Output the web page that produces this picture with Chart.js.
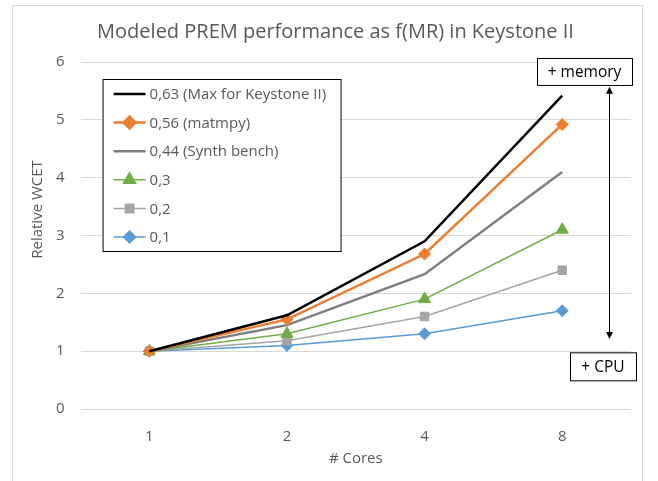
<!DOCTYPE html>
<html>
<head>
<meta charset="utf-8">
<script src="https://cdn.jsdelivr.net/npm/chart.js@4/dist/chart.umd.min.js"></script>
<style>
  html, body { margin: 0; padding: 0; background: #fff; }
  #wrap { position: relative; width: 658px; height: 481px; }
</style>
</head>
<body>
<div id="wrap"><canvas id="chart" width="658" height="481"></canvas></div>
<script>
// ---- data ----
const cores = ['1', '2', '4', '8'];
const mr063 = [1, 1.62, 2.9, 5.42];
const mr056 = [1, 1.55, 2.68, 4.92];
const mr044 = [1, 1.45, 2.33, 4.1];
const mr030 = [1, 1.3, 1.9, 3.1];
const mr020 = [1, 1.18, 1.6, 2.4];
const mr010 = [1, 1.1, 1.3, 1.7];
const seriesNames = ['0,63 (Max for Keystone II)', '0,56 (matmpy)', '0,44 (Synth bench)', '0,3', '0,2', '0,1'];
const yTicks = [0, 1, 2, 3, 4, 5, 6];

const TXT = '#595959';
Chart.defaults.font.family = "'Open Sans', sans-serif";
Chart.defaults.color = TXT;

function series(label, data, color, width, style, radius) {
  return {
    label, data,
    borderColor: color,
    backgroundColor: color,
    borderWidth: width,
    pointStyle: style,
    pointRadius: style ? radius : 0,
    pointBorderWidth: 1,
    tension: 0
  };
}

// legend box drawn inside plot, Excel style
const boxLegend = {
  id: 'boxLegend',
  afterDatasetsDraw(chart) {
    const { ctx, chartArea: a } = chart;
    const x0 = a.left + 22, y0 = a.top + 17, w = 238, h = 172;
    ctx.save();
    ctx.fillStyle = '#fff';
    ctx.fillRect(x0, y0, w, h);
    ctx.strokeStyle = '#000';
    ctx.lineWidth = 1;
    ctx.strokeRect(x0 + 0.5, y0 + 0.5, w, h);
    ctx.font = "15px 'Open Sans', sans-serif";
    ctx.textBaseline = 'middle';
    chart.data.datasets.forEach((ds, i) => {
      const y = y0 + 15 + i * 28.6;
      ctx.strokeStyle = ds.borderColor;
      ctx.lineWidth = ds.borderWidth;
      ctx.beginPath();
      ctx.moveTo(x0 + 11, y);
      ctx.lineTo(x0 + 43, y);
      ctx.stroke();
      if (ds.pointStyle) {
        ctx.fillStyle = ds.backgroundColor;
        ctx.strokeStyle = ds.borderColor;
        Chart.helpers.drawPoint(ctx, { pointStyle: ds.pointStyle, radius: ds.pointRadius, rotation: 0, borderWidth: 1 }, x0 + 27, y);
      }
      ctx.fillStyle = TXT;
      ctx.fillText(ds.label, x0 + 47, y + 1);
    });
    ctx.restore();
  }
};

// frame, axis titles, "+ memory" / "+ CPU" boxes and the double arrow
const sideNotes = {
  id: 'sideNotes',
  afterDraw(chart) {
    const { ctx, chartArea: a, scales: { y } } = chart;
    ctx.save();
    ctx.strokeStyle = '#d9d9d9';
    ctx.lineWidth = 1;
    ctx.strokeRect(12.5, 5.5, 630, 480);

    ctx.font = "15px 'Open Sans', sans-serif";
    ctx.fillStyle = TXT;
    ctx.textAlign = 'center';
    ctx.textBaseline = 'middle';
    // x axis title
    ctx.fillText('# Cores', (a.left + a.right) / 2, a.bottom + 50);
    // y axis title (Excel puts it a bit above the plot centre)
    ctx.save();
    ctx.translate(a.left - 43, y.getPixelForValue(3.45));
    ctx.rotate(-Math.PI / 2);
    ctx.fillText('Relative WCET', 0, 0);
    ctx.restore();

    ctx.font = "15.5px 'Open Sans', sans-serif";
    const note = (txt, l, t, w, h) => {
      ctx.fillStyle = '#fff';
      ctx.fillRect(l, t, w, h);
      ctx.strokeStyle = '#000';
      ctx.lineWidth = 1;
      ctx.strokeRect(l + 0.5, t + 0.5, w, h);
      ctx.fillStyle = '#000';
      ctx.fillText(txt, l + w / 2, t + h / 2 + 1);
    };
    note('+ memory', a.right - 94, y.getPixelForValue(6.07), 95, 27);
    note('+ CPU', a.right - 61, y.getPixelForValue(0.98), 66, 28);

    const ax = a.right - 22;
    const yt = y.getPixelForValue(5.57), yb = y.getPixelForValue(1.21);
    ctx.strokeStyle = '#000';
    ctx.fillStyle = '#000';
    ctx.lineWidth = 1;
    ctx.beginPath();
    ctx.moveTo(ax + 0.5, yt + 4);
    ctx.lineTo(ax + 0.5, yb - 4);
    ctx.stroke();
    [[yt, 1], [yb, -1]].forEach(([py, d]) => {
      ctx.beginPath();
      ctx.moveTo(ax + 0.5, py);
      ctx.lineTo(ax - 3, py + 7 * d);
      ctx.lineTo(ax + 4, py + 7 * d);
      ctx.closePath();
      ctx.fill();
    });
    ctx.restore();
  }
};

new Chart(document.getElementById('chart'), {
  type: 'line',
  data: {
    labels: cores,
    datasets: [
      series(seriesNames[0], mr063, '#000000', 2.5, false, 0),
      series(seriesNames[1], mr056, '#ED7D31', 2.5, 'rectRot', 6),
      series(seriesNames[2], mr044, '#7F7F7F', 2.5, false, 0),
      series(seriesNames[3], mr030, '#70AD47', 1.5, 'triangle', 7),
      series(seriesNames[4], mr020, '#A5A5A5', 1.5, 'rect', 6),
      series(seriesNames[5], mr010, '#5B9BD5', 1.5, 'rectRot', 6)
    ]
  },
  options: {
    responsive: false,
    animation: false,
    layout: { padding: { left: 40, right: 27, top: 18, bottom: 16 } },
    plugins: {
      legend: { display: false },
      tooltip: { enabled: false },
      title: {
        display: true,
        text: 'Modeled PREM performance as f(MR) in Keystone II',
        color: TXT,
        font: { size: 20, weight: 'normal' },
        padding: { top: 2, bottom: 18 }
      }
    },
    scales: {
      x: {
        offset: true,
        grid: { display: false, drawTicks: false },
        border: { display: false },
        ticks: { font: { size: 15 }, color: TXT, padding: 19 }
      },
      y: {
        min: 0,
        max: 6,
        afterBuildTicks(s) { s.ticks = yTicks.map(v => ({ value: v })); },
        grid: { color: '#d9d9d9', drawTicks: false },
        border: { display: false },
        ticks: { font: { size: 15 }, color: TXT, padding: 16 }
      }
    }
  },
  plugins: [boxLegend, sideNotes]
});
</script>
</body>
</html>
